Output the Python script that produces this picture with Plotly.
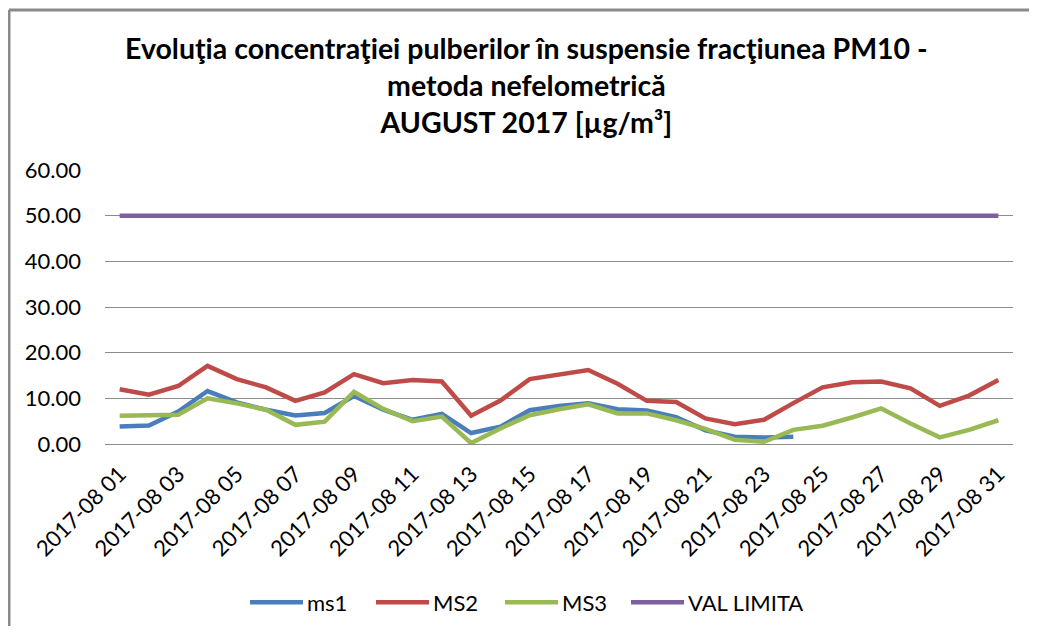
import plotly.graph_objects as go

days = [f"2017-08 {d:02d}" for d in range(1, 32)]

ms1 = [3.85, 4.07, 7.1, 11.6, 9.1, 7.5, 6.25, 6.8, 10.5, 7.5, 5.3,
       6.6, 2.4, 3.8, 7.4, 8.3, 8.9, 7.6, 7.35, 5.9, 3.0,
       1.6, 1.45, 1.6, None, None, None, None, None, None, None]
ms2 = [12.0, 10.8, 12.7, 17.1, 14.2, 12.4, 9.45, 11.3, 15.3, 13.3, 14.0,
       13.7, 6.2, 9.5, 14.2, 15.1, 16.2, 13.2, 9.45, 9.2, 5.6,
       4.35, 5.3, 8.95, 12.4, 13.5, 13.7, 12.2, 8.35, 10.6, 14.0]
ms3 = [6.2, 6.2, 6.4, 10.0, 8.9, 7.5, 4.2, 4.9, 11.4, 7.7, 5.0,
       6.0, 0.2, 3.4, 6.3, 7.6, 8.7, 6.7, 6.7, 5.2, 3.3,
       0.95, 0.5, 3.1, 4.0, 5.8, 7.8, 4.5, 1.45, 3.1, 5.2]
val_limita = [50.0] * 31

series = [("ms1", ms1, "#4A7EBB"), ("MS2", ms2, "#BE4B48"),
          ("MS3", ms3, "#98B954"), ("VAL LIMITA", val_limita, "#7D60A0")]

font = "Lato, Calibri, Noto Sans, sans-serif"

# figure pixel geometry (page has an 8px body margin)
W, H = 1021, 618
L, R, T, B = 97, 16, 161.5, 181.7
pw, ph = W - L - R, H - T - B


def px(x):  # figure px -> paper x
    return (x - L) / pw


def py(y):  # figure px -> paper y
    return (H - B - y) / ph


fig = go.Figure()
for name, vals, color in series:
    fig.add_trace(go.Scatter(x=days, y=vals, name=name, mode="lines",
                             line=dict(color=color, width=4.5), connectgaps=False))

fig.update_layout(
    width=W, height=H,
    margin=dict(l=L, r=R, t=T, b=B),
    paper_bgcolor="white", plot_bgcolor="white",
    font=dict(family=font, size=22, color="#000000"),
    showlegend=False,
)
fig.update_xaxes(type="category", range=[-0.5, 30.5], tickangle=-45,
                 tickmode="array", tickvals=days[::2], ticktext=days[::2],
                 showgrid=False, showline=False, zeroline=False, ticks="",
                 ticklabelstandoff=12, tickfont=dict(size=22), automargin=False)
fig.update_yaxes(range=[0, 60], dtick=10, tickformat=".2f", showgrid=True,
                 gridcolor="#8C8C8C", gridwidth=1, zeroline=True, zerolinecolor="#8C8C8C",
                 zerolinewidth=1, ticks="", ticklabelstandoff=23, tickfont=dict(size=22),
                 automargin=False)

# title
fig.add_annotation(text="<b>Evoluţia concentraţiei pulberilor în suspensie fracţiunea PM10 -<br>"
                        "metoda nefelometrică<br>AUGUST 2017 [µg/m³]</b>",
                   xref="paper", yref="paper", x=px(518), y=py(20), xanchor="center",
                   yanchor="top", showarrow=False, align="center",
                   font=dict(family=font, size=28.5, color="#000000"))

# legend drawn by hand (Excel style: long line sample, text right after)
legend_x = [242, 368, 497, 623]
for (name, vals, color), lx in zip(series, legend_x):
    fig.add_shape(type="line", xref="paper", yref="paper", x0=px(lx), x1=px(lx + 53),
                  y0=py(595), y1=py(595), line=dict(color=color, width=4.5))
    fig.add_annotation(text=name, xref="paper", yref="paper", x=px(lx + 55), y=py(595),
                       xanchor="left", yanchor="middle", showarrow=False,
                       font=dict(family=font, size=22, color="#000000"))

# outer chart border (left and top edges visible)
fig.add_shape(type="line", xref="paper", yref="paper", x0=px(1), x1=px(W + 5), y0=py(1), y1=py(1),
              line=dict(color="#8A8A8A", width=3))
fig.add_shape(type="line", xref="paper", yref="paper", x0=px(1), x1=px(1), y0=py(1), y1=py(H + 5),
              line=dict(color="#8A8A8A", width=3))

fig.write_html("out.html")
